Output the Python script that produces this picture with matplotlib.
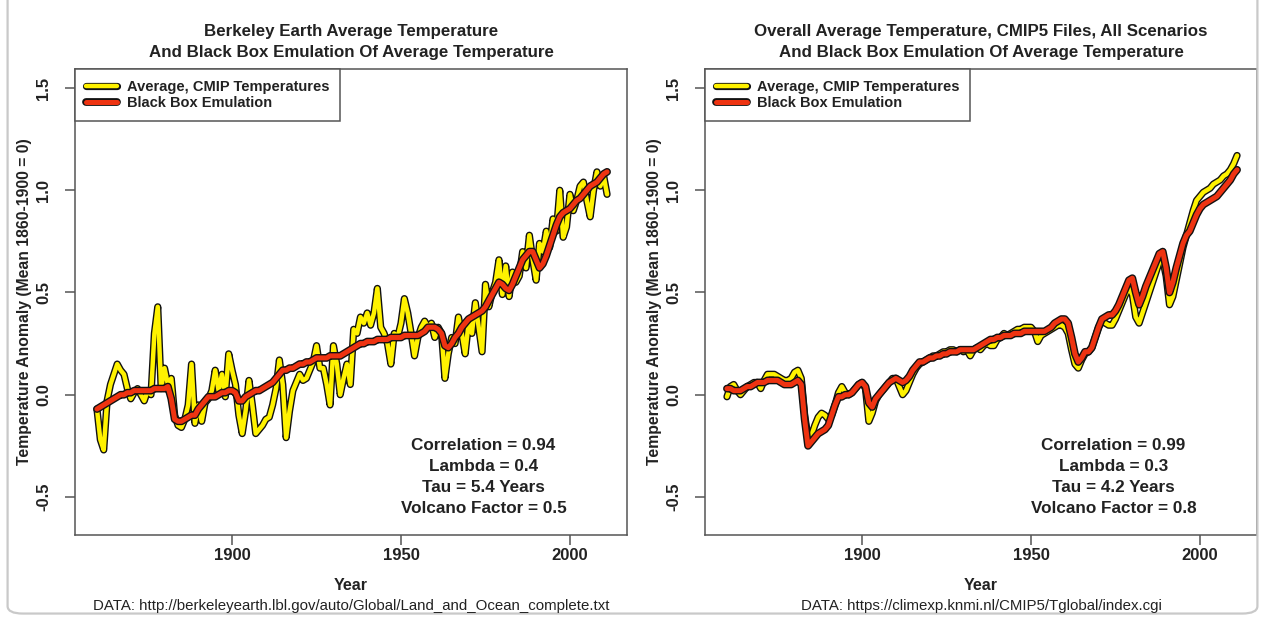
import numpy as np
import matplotlib
matplotlib.use("Agg")
import matplotlib.pyplot as plt
import matplotlib.patheffects as pe
from matplotlib.patches import FancyBboxPatch

plt.rcParams['font.family'] = ['Liberation Sans', 'DejaVu Sans']

years = np.arange(1860, 2012)

# Berkeley Earth annual anomaly (mean 1860-1900 = 0) and emulation
berkeley_temp = [
    -0.07, -0.22, -0.27, -0.03, 0.05, 0.10, 0.15, 0.12, 0.10, 0.03,
    -0.02, 0.01, 0.03, 0.00, -0.03, 0.02, 0.00, 0.30, 0.43, 0.03,
    0.13, 0.05, 0.08, -0.10, -0.15, -0.16, -0.12, -0.05, 0.15, -0.14,
    -0.05, -0.13, -0.04, -0.02, 0.02, 0.12, 0.02, 0.10, -0.01, 0.20,
    0.12, 0.05, -0.10, -0.19, -0.08, 0.07, -0.05, -0.19, -0.17, -0.15,
    -0.12, -0.11, -0.05, 0.03, 0.17, 0.05, -0.21, -0.08, 0.02, 0.06,
    0.10, 0.07, 0.08, 0.12, 0.16, 0.24, 0.13, 0.13, 0.05, -0.05,
    0.24, 0.15, 0.00, 0.08, 0.15, 0.05, 0.32, 0.30, 0.38, 0.35,
    0.40, 0.34, 0.40, 0.52, 0.33, 0.30, 0.25, 0.15, 0.30, 0.28,
    0.35, 0.47, 0.40, 0.30, 0.19, 0.28, 0.33, 0.36, 0.33, 0.35,
    0.28, 0.33, 0.30, 0.08, 0.20, 0.28, 0.25, 0.38, 0.30, 0.20,
    0.35, 0.30, 0.45, 0.33, 0.21, 0.54, 0.43, 0.50, 0.55, 0.66,
    0.49, 0.63, 0.48, 0.60, 0.55, 0.58, 0.70, 0.62, 0.78, 0.66,
    0.56, 0.74, 0.70, 0.80, 0.72, 0.86, 0.80, 1.00, 0.77, 0.82,
    0.98, 0.90, 0.95, 1.02, 1.04, 0.95, 0.87, 1.00, 1.09, 1.02,
    1.07, 0.98,
]
berkeley_fit = [
    -0.07, -0.06, -0.05, -0.04, -0.03, -0.02, -0.01, 0.00, 0.00, 0.01,
    0.01, 0.02, 0.02, 0.02, 0.02, 0.02, 0.02, 0.03, 0.03, 0.03,
    0.03, 0.04, -0.02, -0.12, -0.13, -0.13, -0.12, -0.11, -0.10, -0.10,
    -0.07, -0.05, -0.03, -0.01, -0.01, -0.01, 0.00, 0.01, 0.01, 0.02,
    0.02, 0.01, -0.03, -0.03, -0.01, 0.00, 0.01, 0.02, 0.02, 0.03,
    0.04, 0.05, 0.06, 0.08, 0.10, 0.12, 0.12, 0.13, 0.13, 0.14,
    0.15, 0.15, 0.16, 0.16, 0.17, 0.18, 0.18, 0.18, 0.18, 0.19,
    0.19, 0.19, 0.19, 0.20, 0.21, 0.22, 0.23, 0.24, 0.25, 0.25,
    0.26, 0.26, 0.26, 0.27, 0.27, 0.27, 0.27, 0.28, 0.28, 0.28,
    0.28, 0.29, 0.29, 0.29, 0.29, 0.29, 0.30, 0.31, 0.33, 0.33,
    0.33, 0.32, 0.30, 0.24, 0.23, 0.25, 0.28, 0.30, 0.33, 0.35,
    0.37, 0.38, 0.39, 0.40, 0.41, 0.43, 0.46, 0.49, 0.52, 0.55,
    0.54, 0.52, 0.51, 0.54, 0.58, 0.62, 0.66, 0.68, 0.70, 0.70,
    0.66, 0.62, 0.64, 0.68, 0.73, 0.78, 0.83, 0.87, 0.89, 0.90,
    0.91, 0.93, 0.95, 0.96, 0.98, 1.00, 1.02, 1.03, 1.04, 1.06,
    1.08, 1.09,
]

# CMIP5 all-scenario average and emulation
cmip_temp = [
    -0.01, 0.04, 0.05, 0.02, 0.00, 0.02, 0.04, 0.05, 0.06, 0.06,
    0.03, 0.07, 0.10, 0.10, 0.10, 0.09, 0.08, 0.07, 0.07, 0.08,
    0.11, 0.12, 0.08, -0.10, -0.21, -0.20, -0.15, -0.11, -0.09, -0.10,
    -0.12, -0.10, -0.05, 0.01, 0.04, 0.01, 0.00, 0.01, 0.03, 0.05,
    0.06, 0.03, -0.13, -0.09, -0.03, 0.00, 0.02, 0.04, 0.06, 0.08,
    0.08, 0.04, 0.00, 0.02, 0.06, 0.10, 0.13, 0.15, 0.16, 0.17,
    0.18, 0.19, 0.19, 0.20, 0.21, 0.21, 0.22, 0.22, 0.21, 0.22,
    0.21, 0.22, 0.19, 0.22, 0.23, 0.22, 0.24, 0.25, 0.24, 0.24,
    0.27, 0.28, 0.30, 0.29, 0.30, 0.31, 0.32, 0.32, 0.33, 0.33,
    0.33, 0.31, 0.26, 0.29, 0.30, 0.31, 0.32, 0.33, 0.34, 0.34,
    0.33, 0.30, 0.22, 0.15, 0.13, 0.17, 0.20, 0.21, 0.23, 0.28,
    0.33, 0.36, 0.35, 0.34, 0.34, 0.37, 0.41, 0.45, 0.49, 0.52,
    0.49, 0.38, 0.35, 0.40, 0.45, 0.50, 0.55, 0.60, 0.65, 0.66,
    0.58, 0.44, 0.48, 0.56, 0.64, 0.72, 0.78, 0.84, 0.90, 0.95,
    0.97, 0.99, 1.00, 1.01, 1.03, 1.04, 1.05, 1.07, 1.08, 1.10,
    1.13, 1.17,
]
cmip_fit = [
    0.03, 0.03, 0.02, 0.02, 0.02, 0.03, 0.04, 0.04, 0.05, 0.06,
    0.06, 0.06, 0.07, 0.07, 0.07, 0.07, 0.06, 0.05, 0.05, 0.05,
    0.06, 0.07, 0.05, -0.12, -0.25, -0.23, -0.21, -0.19, -0.18, -0.17,
    -0.15, -0.10, -0.05, -0.01, -0.01, 0.00, 0.00, 0.01, 0.03, 0.05,
    0.06, 0.04, -0.04, -0.06, -0.02, 0.00, 0.02, 0.04, 0.06, 0.07,
    0.08, 0.07, 0.06, 0.07, 0.09, 0.12, 0.14, 0.16, 0.16, 0.17,
    0.18, 0.18, 0.19, 0.19, 0.20, 0.20, 0.21, 0.21, 0.21, 0.22,
    0.22, 0.22, 0.22, 0.22, 0.23, 0.24, 0.25, 0.26, 0.27, 0.27,
    0.28, 0.28, 0.29, 0.29, 0.29, 0.30, 0.30, 0.30, 0.31, 0.31,
    0.31, 0.31, 0.31, 0.31, 0.31, 0.32, 0.33, 0.35, 0.36, 0.37,
    0.37, 0.35, 0.28, 0.20, 0.16, 0.18, 0.21, 0.21, 0.23, 0.28,
    0.33, 0.37, 0.38, 0.39, 0.39, 0.41, 0.44, 0.48, 0.52, 0.56,
    0.57, 0.50, 0.44, 0.48, 0.53, 0.57, 0.61, 0.65, 0.69, 0.70,
    0.62, 0.50, 0.55, 0.62, 0.68, 0.74, 0.78, 0.80, 0.84, 0.88,
    0.91, 0.93, 0.94, 0.95, 0.96, 0.97, 0.99, 1.01, 1.03, 1.05,
    1.08, 1.10,
]

titles = [
    "Berkeley Earth Average Temperature\nAnd Black Box Emulation Of Average Temperature",
    "Overall Average Temperature, CMIP5 Files, All Scenarios\nAnd Black Box Emulation Of Average Temperature",
]
stats = [
    "Correlation = 0.94\nLambda = 0.4\nTau = 5.4 Years\nVolcano Factor = 0.5",
    "Correlation = 0.99\nLambda = 0.3\nTau = 4.2 Years\nVolcano Factor = 0.8",
]
sources = [
    "DATA: http://berkeleyearth.lbl.gov/auto/Global/Land_and_Ocean_complete.txt",
    "DATA: https://climexp.knmi.nl/CMIP5/Tglobal/index.cgi",
]
legend_labels = ["Average, CMIP Temperatures", "Black Box Emulation"]

YELLOW = "#FFF200"
RED = "#EE3311"
TXT = "#222222"
FRAME = "#555555"

fig = plt.figure(figsize=(12.65, 6.21), dpi=100)
fig.patch.set_facecolor("white")

# card outline round the whole figure
card = FancyBboxPatch((0.006, 0.012), 0.988, 1.1, boxstyle="round,pad=0,rounding_size=0.012",
                      transform=fig.transFigure, facecolor="none", edgecolor="#c9c9c9", lw=1.6)
fig.patches.append(card)

series = [(berkeley_temp, berkeley_fit), (cmip_temp, cmip_fit)]
lefts = [75 / 1265, 705 / 1265]

for i in range(2):
    ax = fig.add_axes([lefts[i], 86 / 621, 552 / 1265, 466 / 621])
    temp, fit = series[i]
    l1, = ax.plot(years, temp, color=YELLOW, lw=3.2, solid_joinstyle="round",
                  solid_capstyle="round",
                  path_effects=[pe.Stroke(linewidth=5.2, foreground="#111111"), pe.Normal()])
    l2, = ax.plot(years, fit, color=RED, lw=3.6, solid_joinstyle="round",
                  solid_capstyle="round",
                  path_effects=[pe.Stroke(linewidth=5.6, foreground="#111111"), pe.Normal()])

    ax.set_xlim(1853.5, 2016.9)
    ax.set_ylim(-0.686, 1.593)
    ax.set_xticks([1900, 1950, 2000])
    ax.set_yticks([-0.5, 0.0, 0.5, 1.0, 1.5])
    ax.set_yticklabels(["-0.5", "0.0", "0.5", "1.0", "1.5"], rotation=90, va="center")
    for s in ax.spines.values():
        s.set_color(FRAME)
        s.set_linewidth(1.1)
    ax.tick_params(direction="out", width=1.1, color=FRAME, labelsize=12, labelcolor=TXT)
    ax.tick_params(axis="x", length=7, pad=2)
    ax.tick_params(axis="y", length=7, pad=10)
    for lab in ax.get_xticklabels() + ax.get_yticklabels():
        lab.set_fontweight("bold")

    ax.set_xlabel("Year", fontsize=11.5, fontweight="bold", color=TXT, labelpad=11)
    ax.set_ylabel("Temperature Anomaly (Mean 1860-1900 = 0)", fontsize=11.3,
                  fontweight="bold", color=TXT, labelpad=3)
    ax.set_title(titles[i], fontsize=12.2, fontweight="bold", color=TXT, pad=9,
                 linespacing=1.42)

    ax.text(0.74, 0.1245, stats[i], transform=ax.transAxes, ha="center", va="center",
            fontsize=12.3, fontweight="bold", color=TXT, linespacing=1.49)

    leg = ax.legend([l1, l2], legend_labels, loc="upper left", bbox_to_anchor=(0, 1),
                    borderaxespad=0, fancybox=False, framealpha=1, edgecolor=FRAME,
                    handlelength=2.1, handletextpad=0.7, borderpad=0.75,
                    labelspacing=0.15, prop={"weight": "bold", "size": 10.5})
    leg.get_frame().set_linewidth(1.1)
    for t in leg.get_texts():
        t.set_color(TXT)

    fig.text(lefts[i] + 276 / 1265, 15 / 621, sources[i], ha="center", va="center",
             fontsize=10.8, color=TXT)

fig.savefig("out.png", dpi=100)
